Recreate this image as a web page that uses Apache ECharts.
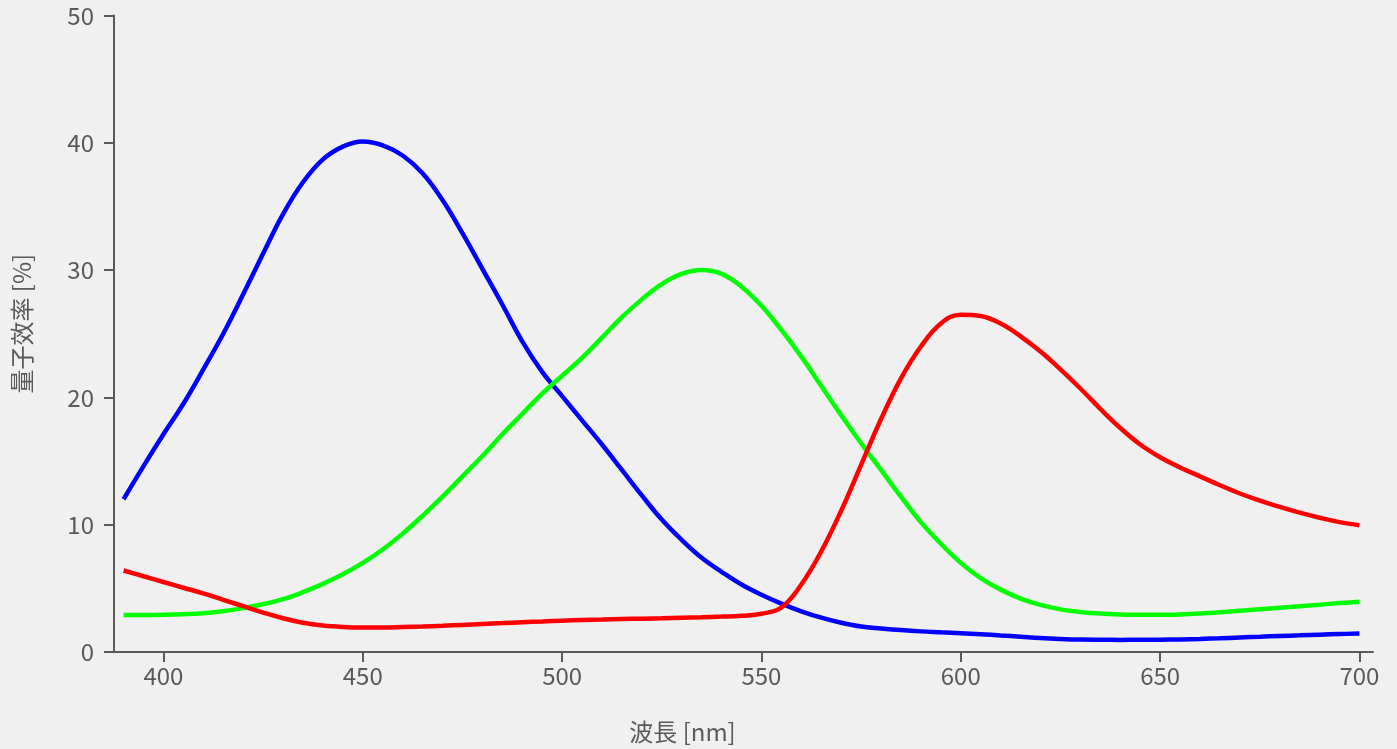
<!DOCTYPE html>
<html>
<head>
<meta charset="utf-8">
<script src="https://cdn.jsdelivr.net/npm/echarts@6/dist/echarts.min.js"></script>
<style>
html,body{margin:0;padding:0;background:#f0f0f0;}
#chart{width:1397px;height:749px;}
</style>
</head>
<body>
<div id="chart"></div>
<script>
const wavelengths = [390,395,400,405,410,415,420,425,430,435,440,445,450,455,460,465,470,475,480,485,490,495,500,505,510,515,520,525,530,535,540,545,550,555,560,565,570,575,580,585,590,595,600,605,610,615,620,625,630,635,640,645,650,655,660,665,670,675,680,685,690,695,700];
const blueQE = [12.0,14.6,17.1,19.5,22.2,25.0,28.1,31.3,34.4,36.9,38.7,39.7,40.1,39.8,39.0,37.6,35.5,32.9,30.1,27.3,24.4,22.0,20.1,18.2,16.3,14.3,12.3,10.4,8.8,7.4,6.3,5.3,4.5,3.8,3.2,2.7,2.3,2.0,1.85,1.72,1.62,1.55,1.48,1.4,1.3,1.2,1.1,1.03,0.98,0.96,0.95,0.96,0.97,0.99,1.03,1.08,1.14,1.2,1.26,1.31,1.36,1.41,1.45];
const greenQE = [2.9,2.9,2.92,2.97,3.05,3.2,3.45,3.75,4.15,4.7,5.35,6.1,7.0,8.05,9.3,10.7,12.2,13.8,15.4,17.1,18.7,20.3,21.7,23.1,24.7,26.3,27.7,28.9,29.7,30.0,29.7,28.7,27.2,25.3,23.2,20.9,18.6,16.4,14.3,12.2,10.2,8.5,7.0,5.8,4.9,4.2,3.7,3.35,3.15,3.02,2.95,2.92,2.92,2.95,3.02,3.12,3.24,3.36,3.48,3.6,3.72,3.84,3.95];
const redQE = [6.4,5.95,5.5,5.05,4.6,4.1,3.6,3.1,2.65,2.3,2.08,1.97,1.93,1.93,1.96,2.0,2.06,2.13,2.2,2.27,2.34,2.4,2.46,2.51,2.55,2.59,2.62,2.65,2.69,2.73,2.78,2.85,3.0,3.5,5.3,7.9,11.1,14.7,18.3,21.5,24.0,25.8,26.5,26.4,25.8,24.8,23.6,22.2,20.7,19.1,17.6,16.3,15.3,14.5,13.8,13.1,12.45,11.9,11.4,10.95,10.55,10.2,9.95];
const xTicks = [400,450,500,550,600,650,700];
const xName = '波長 [nm]';
const yName = '量子效率 [%]';

const pairs = arr => wavelengths.map((w, i) => [w, arr[i]]);
const font = '"Noto Sans CJK JP", "Noto Sans", sans-serif';
const axisColor = '#5a5a5a';
const textColor = '#5a5a5a';

const chart = echarts.init(document.getElementById('chart'), null, {renderer: 'canvas'});
chart.setOption({
  backgroundColor: '#f0f0f0',
  animation: false,
  grid: {left: 114, right: 24, top: 15.5, bottom: 95, containLabel: false},
  xAxis: {
    type: 'value',
    min: 387.6,
    max: 703.4,
    name: xName,
    nameLocation: 'middle',
    nameGap: 68,
    nameTextStyle: {fontFamily: font, fontSize: 24, color: textColor, padding: [0, 122, 0, 0]},
    axisLine: {show: true, lineStyle: {color: axisColor, width: 2}},
    axisTick: {show: true, length: 10, lineStyle: {color: axisColor, width: 2}, customValues: xTicks},
    axisLabel: {fontFamily: font, fontSize: 24, color: textColor, margin: 12, customValues: xTicks},
    splitLine: {show: false}
  },
  yAxis: {
    type: 'value',
    min: 0,
    max: 50,
    interval: 10,
    name: yName,
    nameLocation: 'middle',
    nameGap: 80,
    nameTextStyle: {fontFamily: font, fontSize: 24, color: textColor, padding: [0, 0, 0, 20]},
    axisLine: {show: true, lineStyle: {color: axisColor, width: 2}},
    axisTick: {show: true, length: 10, lineStyle: {color: axisColor, width: 2}},
    axisLabel: {fontFamily: font, fontSize: 24, color: textColor, margin: 20},
    splitLine: {show: false}
  },
  series: [
    {type: 'line', data: pairs(blueQE), smooth: 0.4, showSymbol: false, lineStyle: {color: '#0000ff', width: 4.5}, itemStyle: {color: '#0000ff'}},
    {type: 'line', data: pairs(greenQE), smooth: 0.4, showSymbol: false, lineStyle: {color: '#00ff00', width: 4.5}, itemStyle: {color: '#00ff00'}},
    {type: 'line', data: pairs(redQE), smooth: 0.4, showSymbol: false, lineStyle: {color: '#ff0000', width: 4.5}, itemStyle: {color: '#ff0000'}}
  ]
});
</script>
</body>
</html>
